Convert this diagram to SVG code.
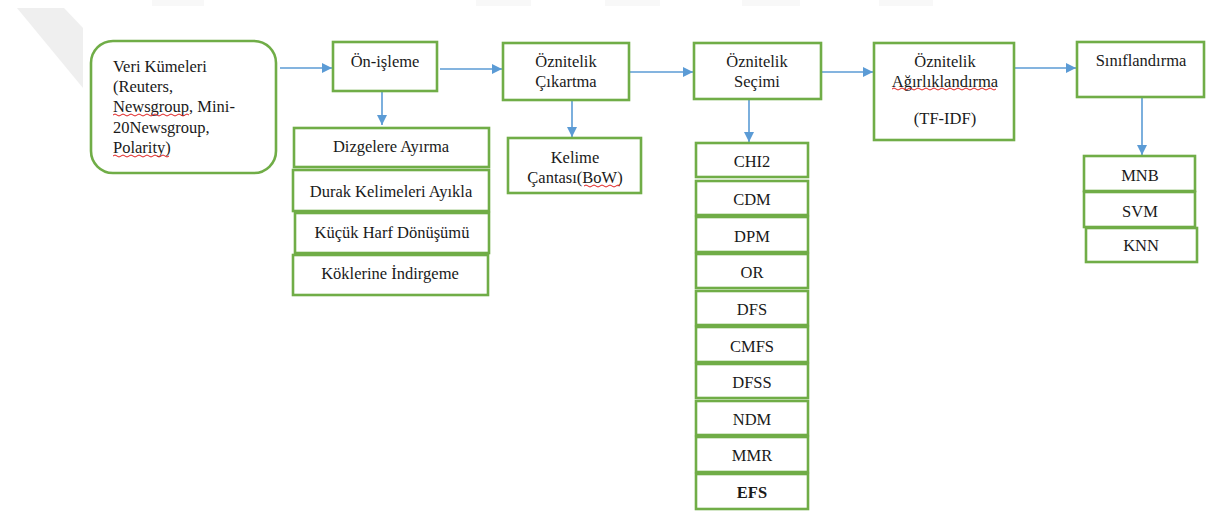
<svg xmlns="http://www.w3.org/2000/svg" width="1219" height="513" viewBox="0 0 1219 513">
  <defs>
    <marker id="arrow" viewBox="0 0 10 10" refX="10" refY="5" markerWidth="10" markerHeight="10" markerUnits="userSpaceOnUse" orient="auto">
      <path d="M0,0 L10,5 L0,10 Z" fill="#5b9bd5"/>
    </marker>
    <style>
      .box { fill: #ffffff; stroke: #70ad47; stroke-width: 2.6; }
      .t { font-size: 16.5px; fill: #1a1a1a; }
      .c { text-anchor: middle; }
      .b { font-weight: bold; }
      .conn { stroke: #5b9bd5; stroke-width: 1.6; fill: none; marker-end: url(#arrow); }
      .wavy { stroke: #e02020; stroke-width: 1; fill: none; }
    </style>
  </defs>

  <rect width="1219" height="513" fill="#ffffff"/>

  <!-- faint background marks -->
  <g id="background" fill="#efefef">
    <polygon points="17,8 64,8 83,28 83,88"/>
    <rect x="152" y="0" width="52" height="6" fill="#f8f8f8"/>
    <rect x="476" y="0" width="55" height="6" fill="#f8f8f8"/>
    <rect x="605" y="0" width="55" height="6" fill="#f8f8f8"/>
    <rect x="742" y="0" width="58" height="6" fill="#f8f8f8"/>
    <rect x="879" y="0" width="54" height="6" fill="#f8f8f8"/>
  </g>

  <!-- connectors -->
  <g id="connectors">
    <line class="conn" x1="280" y1="68" x2="332" y2="68"/>
    <line class="conn" x1="440" y1="69" x2="502" y2="69"/>
    <line class="conn" x1="630" y1="72" x2="693" y2="72"/>
    <line class="conn" x1="822" y1="72" x2="873" y2="72"/>
    <line class="conn" x1="1015" y1="68" x2="1076" y2="68"/>
    <line class="conn" x1="382" y1="92" x2="382" y2="125"/>
    <line class="conn" x1="572" y1="101" x2="572" y2="137"/>
    <line class="conn" x1="749" y1="100" x2="749" y2="142"/>
    <line class="conn" x1="1142" y1="98" x2="1142" y2="155"/>
  </g>

  <g font-family="Liberation Serif, Times New Roman, DejaVu Serif, serif">
  <!-- dataset node -->
  <g id="node-veri">
    <rect class="box" x="91" y="41" width="185" height="132" rx="22" ry="22"/>
    <text class="t" x="113" y="72">Veri Kümeleri</text>
    <text class="t" x="113" y="92">(Reuters,</text>
    <text class="t" x="113" y="112">Newsgroup, Mini-</text>
    <text class="t" x="113" y="133">20Newsgroup,</text>
    <text class="t" x="113" y="153">Polarity)</text>
    <path class="wavy" d="M113,115 q2,-2 4,0 t4,0 t4,0 t4,0 t4,0 t4,0 t4,0 t4,0 t4,0 t4,0 t4,0 t4,0 t4,0 t4,0 t4,0 t4,0 t4,0 t4,0 t4,0"/>
    <path class="wavy" d="M113,156 q2,-2 4,0 t4,0 t4,0 t4,0 t4,0 t4,0 t4,0 t4,0 t4,0 t4,0 t4,0 t4,0 t4,0 t4,0"/>
  </g>

  <!-- preprocessing -->
  <g id="node-onisleme">
    <rect class="box" x="333" y="42" width="104" height="49"/>
    <text class="t c" x="385" y="67">Ön-işleme</text>
  </g>
  <g id="node-dizgelere">
    <rect class="box" x="294" y="128" width="195" height="39"/>
    <text class="t c" x="391" y="152">Dizgelere Ayırma</text>
  </g>
  <g id="node-durak">
    <rect class="box" x="293" y="170" width="196" height="41"/>
    <text class="t c" x="391" y="197">Durak Kelimeleri Ayıkla</text>
  </g>
  <g id="node-kucuk">
    <rect class="box" x="295" y="213" width="194" height="40"/>
    <text class="t c" x="392" y="238">Küçük Harf Dönüşümü</text>
  </g>
  <g id="node-kok">
    <rect class="box" x="293" y="255" width="195" height="40"/>
    <text class="t c" x="390" y="279">Köklerine İndirgeme</text>
  </g>

  <!-- feature extraction -->
  <g id="node-cikartma">
    <rect class="box" x="503" y="43" width="126" height="57"/>
    <text class="t c" x="566" y="67">Öznitelik</text>
    <text class="t c" x="566" y="87">Çıkartma</text>
  </g>
  <g id="node-bow">
    <rect class="box" x="508" y="138" width="133" height="55"/>
    <text class="t c" x="575" y="163">Kelime</text>
    <text class="t c" x="575" y="183">Çantası(BoW)</text>
    <path class="wavy" d="M584,186 q2,-2 4,0 t4,0 t4,0 t4,0 t4,0 t4,0 t4,0 t4,0 t4,0"/>
  </g>

  <!-- feature selection -->
  <g id="node-secimi">
    <rect class="box" x="694" y="43" width="127" height="56"/>
    <text class="t c" x="757" y="67">Öznitelik</text>
    <text class="t c" x="757" y="87">Seçimi</text>
  </g>
  <g id="node-chi2">
    <rect class="box" x="696" y="143" width="112" height="34"/>
    <text class="t c" x="752" y="167">CHI2</text>
  </g>
  <g id="node-cdm">
    <rect class="box" x="696" y="181" width="112" height="34"/>
    <text class="t c" x="752" y="205">CDM</text>
  </g>
  <g id="node-dpm">
    <rect class="box" x="696" y="217" width="112" height="35"/>
    <text class="t c" x="752" y="242">DPM</text>
  </g>
  <g id="node-or">
    <rect class="box" x="696" y="254" width="112" height="34"/>
    <text class="t c" x="752" y="278">OR</text>
  </g>
  <g id="node-dfs">
    <rect class="box" x="696" y="291" width="112" height="34"/>
    <text class="t c" x="752" y="315">DFS</text>
  </g>
  <g id="node-cmfs">
    <rect class="box" x="696" y="327" width="112" height="35"/>
    <text class="t c" x="752" y="352">CMFS</text>
  </g>
  <g id="node-dfss">
    <rect class="box" x="696" y="364" width="112" height="34"/>
    <text class="t c" x="752" y="388">DFSS</text>
  </g>
  <g id="node-ndm">
    <rect class="box" x="696" y="401" width="112" height="34"/>
    <text class="t c" x="752" y="425">NDM</text>
  </g>
  <g id="node-mmr">
    <rect class="box" x="696" y="437" width="112" height="35"/>
    <text class="t c" x="752" y="461">MMR</text>
  </g>
  <g id="node-efs">
    <rect class="box" x="696" y="474" width="112" height="35"/>
    <text class="t c b" x="752" y="498">EFS</text>
  </g>

  <!-- feature weighting -->
  <g id="node-agirlik">
    <rect class="box" x="874" y="43" width="140" height="97"/>
    <text class="t c" x="945" y="67">Öznitelik</text>
    <text class="t c" x="945" y="87">Ağırlıklandırma</text>
    <text class="t c" x="945" y="124">(TF-IDF)</text>
    <path class="wavy" d="M892,89 q2,-2 4,0 t4,0 t4,0 t4,0 t4,0 t4,0 t4,0 t4,0 t4,0 t4,0 t4,0 t4,0 t4,0 t4,0 t4,0 t4,0 t4,0 t4,0 t4,0 t4,0 t4,0 t4,0 t4,0 t4,0 t4,0 t4,0"/>
  </g>

  <!-- classification -->
  <g id="node-siniflandirma">
    <rect class="box" x="1077" y="42" width="127" height="55"/>
    <text class="t c" x="1141" y="66">Sınıflandırma</text>
  </g>
  <g id="node-mnb">
    <rect class="box" x="1084" y="156" width="111" height="35"/>
    <text class="t c" x="1140" y="181">MNB</text>
  </g>
  <g id="node-svm">
    <rect class="box" x="1084" y="192" width="111" height="35"/>
    <text class="t c" x="1140" y="217">SVM</text>
  </g>
  <g id="node-knn">
    <rect class="box" x="1086" y="228" width="111" height="34"/>
    <text class="t c" x="1141" y="251">KNN</text>
  </g>
  </g>
</svg>
